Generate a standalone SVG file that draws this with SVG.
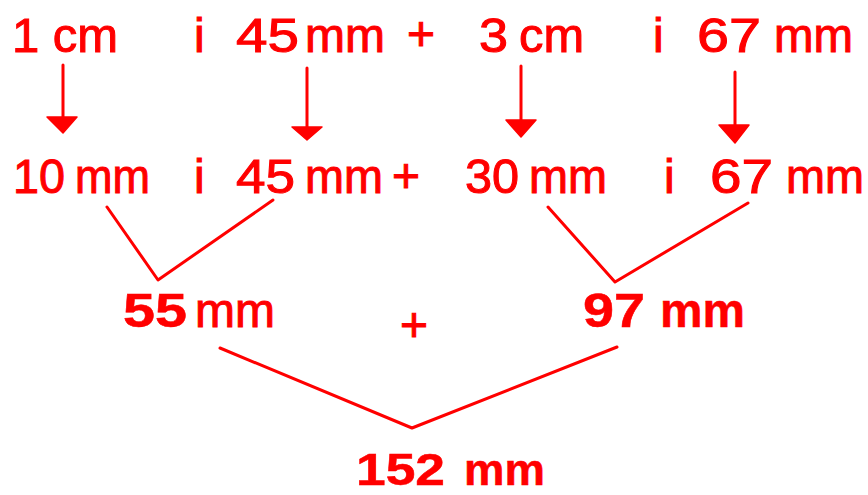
<svg xmlns="http://www.w3.org/2000/svg" width="868" height="495" viewBox="0 0 868 495">
<style>
text{font-family:"Liberation Sans",Arial,sans-serif;fill:#ff0000;font-size:48px;stroke:#ff0000;stroke-width:1px}
.b{font-weight:bold;stroke-width:0.5px}
.s{font-size:45px}
.ln{fill:none;stroke:#ff0000;stroke-width:3;stroke-linejoin:round;stroke-linecap:round}
.hd{fill:#ff0000;stroke:#ff0000;stroke-width:1.5;stroke-linejoin:round}
</style>
<rect width="868" height="495" fill="#ffffff"/>
<g id="row1">
<text x="12" y="52" textLength="106" lengthAdjust="spacingAndGlyphs">1 cm</text>
<text x="194" y="52">i</text>
<text x="236" y="52" textLength="63" lengthAdjust="spacingAndGlyphs">45</text>
<text x="305" y="52" textLength="80" lengthAdjust="spacingAndGlyphs">mm</text>
<text x="407" y="50">+</text>
<text x="479" y="52" textLength="29" lengthAdjust="spacingAndGlyphs">3</text>
<text x="519" y="52" textLength="65" lengthAdjust="spacingAndGlyphs">cm</text>
<text x="653" y="52">i</text>
<text x="697" y="52" textLength="64" lengthAdjust="spacingAndGlyphs">67</text>
<text x="774" y="52" textLength="79" lengthAdjust="spacingAndGlyphs">mm</text>
</g>
<g id="row2">
<text x="13" y="193" textLength="52" lengthAdjust="spacingAndGlyphs">10</text>
<text x="75" y="193" textLength="75" lengthAdjust="spacingAndGlyphs">mm</text>
<text x="194" y="193">i</text>
<text x="236" y="193" textLength="59" lengthAdjust="spacingAndGlyphs">45</text>
<text x="305" y="193" textLength="78" lengthAdjust="spacingAndGlyphs">mm</text>
<text x="392" y="192">+</text>
<text x="465" y="193" textLength="54" lengthAdjust="spacingAndGlyphs">30</text>
<text x="529" y="193" textLength="78" lengthAdjust="spacingAndGlyphs">mm</text>
<text x="664" y="193">i</text>
<text x="710" y="193" textLength="63" lengthAdjust="spacingAndGlyphs">67</text>
<text x="786" y="193" textLength="78" lengthAdjust="spacingAndGlyphs">mm</text>
</g>
<g id="sum55">
<text class="b" x="123" y="327" textLength="64" lengthAdjust="spacingAndGlyphs">55</text>
<text x="195" y="327" textLength="80" lengthAdjust="spacingAndGlyphs">mm</text>
</g>
<g id="plus"><text x="400" y="341">+</text></g>
<g id="sum97">
<text class="b" x="583" y="327" textLength="62" lengthAdjust="spacingAndGlyphs">97</text>
<text class="b" x="660" y="327" textLength="85" lengthAdjust="spacingAndGlyphs">mm</text>
</g>
<g id="total">
<text class="b s" x="356" y="485" textLength="89" lengthAdjust="spacingAndGlyphs">152</text>
<text class="b s" x="464" y="485" textLength="81" lengthAdjust="spacingAndGlyphs">mm</text>
</g>
<g id="connectors">
<line class="ln" x1="63" y1="65" x2="63" y2="119"/>
<polygon class="hd" points="47,117 77,117 63,133"/>
<line class="ln" x1="307" y1="68" x2="307" y2="129"/>
<polygon class="hd" points="292,127 322,127 307,140"/>
<line class="ln" x1="521" y1="66" x2="521" y2="122"/>
<polygon class="hd" points="506,120 536,120 521,137"/>
<line class="ln" x1="735" y1="72" x2="735" y2="127"/>
<polygon class="hd" points="719,125 749,125 735,143"/>
<polyline class="ln" points="107,207 158,280 273,200"/>
<polyline class="ln" points="548,207 615,282 748,203"/>
<polyline class="ln" points="220,348 412,428 617,347"/>
</g>
</svg>
